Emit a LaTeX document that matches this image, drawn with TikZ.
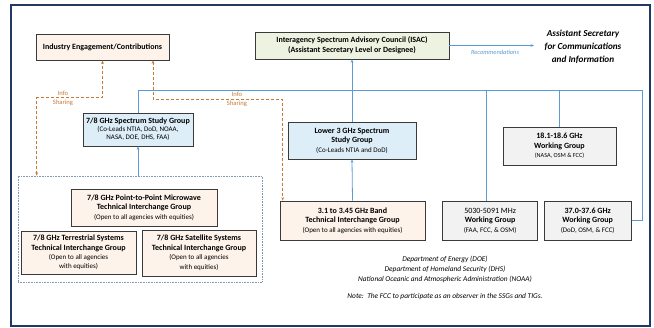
\documentclass[tikz,border=0pt]{standalone}
\usepackage{fontspec}
\setmainfont{Carlito}
\usepackage{xcolor}
\usepackage{tikz}
\usetikzlibrary{arrows.meta,positioning,shapes,shadows}

\definecolor{navy}{HTML}{1F3864}
\definecolor{boxline}{HTML}{3A3A3A}
\definecolor{peach}{HTML}{FDF3EA}
\definecolor{sage}{HTML}{EEF3E1}
\definecolor{skyfill}{HTML}{DDEEF8}
\definecolor{greyfill}{HTML}{F2F2F2}
\definecolor{busblue}{HTML}{5B9BD5}
\definecolor{infoorange}{HTML}{C47A35}
\definecolor{dotgrey}{HTML}{8497B0}

\newcommand{\subnote}[1]{{\mdseries\fontsize{7}{8}\selectfont #1}}

\begin{document}
\begin{tikzpicture}[x=1pt, y=-1pt, >={Stealth[length=3.5pt,width=2.6pt]},
    group/.style={draw=boxline, line width=0.6pt, align=center, inner sep=1pt,
        drop shadow={shadow xshift=0.8pt, shadow yshift=-0.8pt, opacity=0.5},
        font=\fontsize{8}{9.5}\selectfont\bfseries},
    bus/.style={draw=busblue, line width=0.8pt},
    info/.style={draw=infoorange, densely dashed, line width=0.6pt},
    infolabel/.style={text=infoorange, align=center, font=\fontsize{6.6}{9}\selectfont}]
    \useasboundingbox (0,0) rectangle (654,328);
    \draw[navy, line width=2.2pt] (11,5) rectangle (650,326);

    \node[draw=dotgrey, densely dotted, line width=0.6pt, minimum width=244, minimum height=106] (tigs) at (140,229) {};

    \node[group, fill=peach, minimum width=133, minimum height=26] (industry) at (102.5,47) {Industry Engagement/Contributions};
    \node[group, fill=sage, minimum width=194, minimum height=27] (isac) at (352,45.5)
        {Interagency Spectrum Advisory Council (ISAC)\\[0.5pt](Assistant Secretary Level or Designee)};
    \node[align=center, font=\fontsize{9.2}{13}\selectfont\bfseries\itshape] (asst) at (583,47)
        {Assistant Secretary\\for Communications\\and Information};

    \node[group, fill=skyfill, minimum width=110, minimum height=33] (ssg78) at (138,129.5)
        {7/8 GHz Spectrum Study Group\\[-1.5pt]\subnote{(Co-Leads NTIA, DoD, NOAA,}\\[-1.5pt]\subnote{NASA, DOE, DHS, FAA)}};
    \node[group, fill=skyfill, minimum width=128, minimum height=37] (low3) at (352,140.5)
        {Lower 3 GHz Spectrum\\Study Group\\\subnote{(Co-Leads NTIA and DoD)}};
    \node[group, fill=greyfill, minimum width=113, minimum height=38] (wg18) at (559.5,146)
        {18.1-18.6 GHz\\Working Group\\{\mdseries\fontsize{6.2}{8}\selectfont(NASA, OSM \& FCC)}};

    \node[group, fill=peach, minimum width=145, minimum height=39] (tig31) at (352.5,220.5)
        {3.1 to 3.45 GHz Band\\Technical Interchange Group\\\subnote{(Open to all agencies with equities)}};
    \node[group, fill=greyfill, minimum width=95, minimum height=39, right=17pt of tig31] (wg50)
        {{\mdseries 5030-5091 MHz}\\Working Group\\\subnote{(FAA, FCC, \& OSM)}};
    \node[group, fill=greyfill, minimum width=87, minimum height=39, right=6pt of wg50] (wg37)
        {37.0-37.6 GHz\\Working Group\\\subnote{(DoD, OSM, \& FCC)}};

    \node[group, fill=peach, minimum width=146, minimum height=37] (p2p) at (144,207.5)
        {7/8 GHz Point-to-Point Microwave\\Technical Interchange Group\\\subnote{(Open to all agencies with equities)}};
    \node[group, fill=peach, minimum width=115, minimum height=43] (terr) at (78.5,252.5)
        {7/8 GHz Terrestrial Systems\\Technical Interchange Group\\[-0.5pt]\subnote{(Open to all agencies}\\[-0.5pt]\subnote{with equities)}};
    \node[group, fill=peach, minimum width=114, minimum height=46] (sat) at (199,253)
        {7/8 GHz Satellite Systems\\Technical Interchange Group\\\subnote{(Open to all agencies}\\\subnote{with equities)}};

    \node[align=center, font=\fontsize{7.4}{10}\selectfont\itshape] (depts) at (445,269)
        {Department of Energy (DOE)\\Department of Homeland Security (DHS)\\National Oceanic and Atmospheric Administration (NOAA)};
    \node[font=\fontsize{7.4}{10}\selectfont\itshape] (fccnote) at (445,297)
        {Note:\ \ The FCC to participate as an observer in the SSGs and TIGs.};

    \coordinate (busL) at (138,90);
    \coordinate (busR) at (642,90);
    \draw[bus] (ssg78.north) -- (busL) -- (busR) |- (wg37.east);
    \draw[bus] ([xshift=-4pt]wg50.north) -- ([xshift=-4pt]wg50.north |- busL);
    \draw[bus] (wg18.north) -- (wg18.north |- busL);
    \draw[bus,->] (ssg78.south |- tigs.north) -- (ssg78.south);
    \draw[bus,->] (low3.north) -- (isac.south);
    \draw[bus,->] (tig31.north) -- (low3.south);
    \draw[bus,->, shorten >=7pt] (isac.east) -- (isac.east -| asst.west);
    \node[text=busblue, font=\fontsize{6.4}{8}\selectfont\itshape] (recs) at (495,52.5) {Recommendations};

    \draw[info,<->] ([xshift=19pt]tigs.north west) -- ++(0,-78) -| (industry.south);
    \draw[info,<->] ([xshift=50.5pt]industry.south) -- ++(0,39) -| ([xshift=3pt]tig31.north west);
    \node[infolabel] (info1) at (63,98.5) {Info\\Sharing};
    \node[infolabel] (info2) at (237,99.5) {Info\\Sharing};
\end{tikzpicture}
\end{document}
